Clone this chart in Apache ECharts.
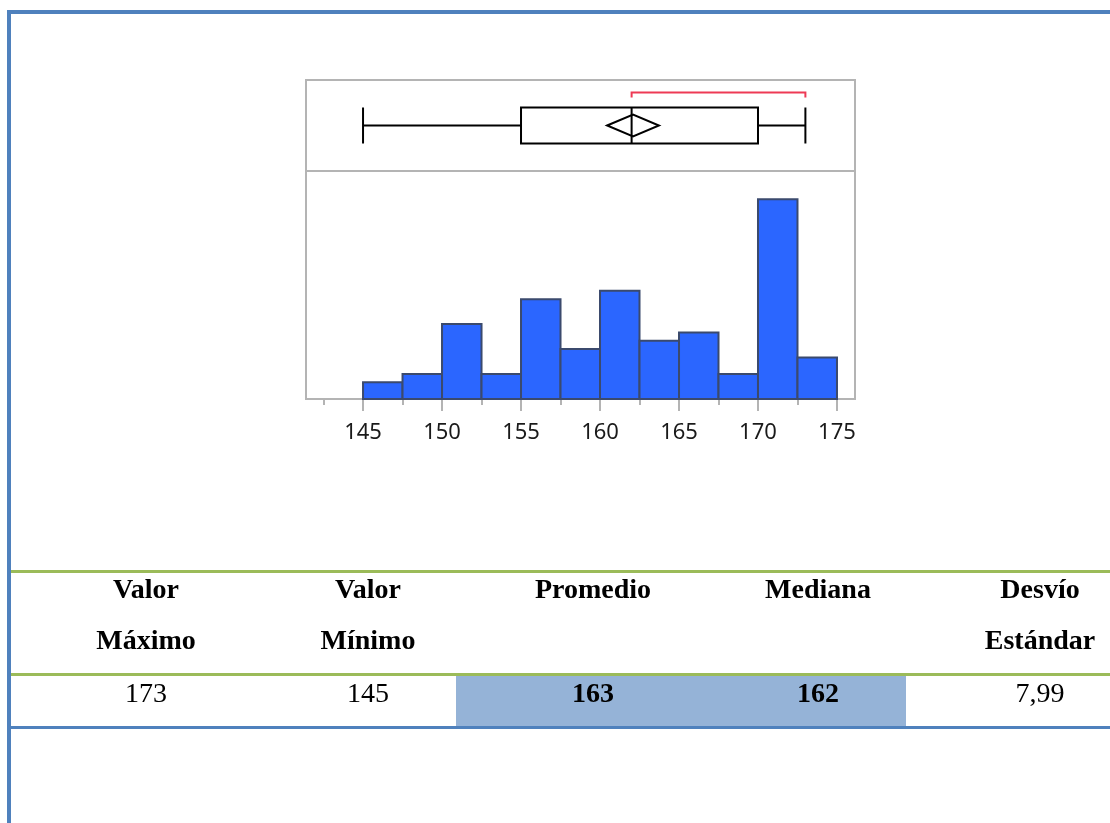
<!DOCTYPE html>
<html>
<head>
<meta charset="utf-8">
<title>Distribución de estaturas</title>
<script src="https://cdn.jsdelivr.net/npm/echarts@6/dist/echarts.min.js"></script>
<style>
  html, body { margin: 0; padding: 0; background: #ffffff; }
  #chart { width: 1110px; height: 823px; }
</style>
</head>
<body>
<div id="chart"></div>
<script>
// Histogram bins (lower edge of each bin) and their counts
const binStarts = [145, 147.5, 150, 152.5, 155, 157.5, 160, 162.5, 165, 167.5, 170, 172.5];
const binCounts = [2, 3, 9, 3, 12, 6, 13, 7, 8, 3, 24, 5];
const binWidth = 2.5;

// Axis tick values
const tickLabels = [145, 150, 155, 160, 165, 170, 175];
const minorTicks = [142.5, 147.5, 152.5, 157.5, 162.5, 167.5, 172.5];

// Box plot: min, Q1, median, Q3, max
const boxValues = [145, 155, 162, 170, 173];
// Mean diamond: lower confidence limit, upper confidence limit
const meanDiamond = [160.45, 163.73];
// Shortest half bracket
const shortestHalf = [162, 173];

// Summary table
const tableHeaders = [['Valor', 'Máximo'], ['Valor', 'Mínimo'], ['Promedio'], ['Mediana'], ['Desvío', 'Estándar']];
const tableValues = ['173', '145', '163', '162', '7,99'];
const tableBold = [false, false, true, true, false];

const X_MIN = 141.39, X_MAX = 176.14;
const GRID_LEFT = 306, GRID_WIDTH = 549;
const PANEL_GREY = '#b4b4b4';

const chart = echarts.init(document.getElementById('chart'));

// table layout
const colCenters = [146, 368, 593, 818, 1040];
const headerRows = [591, 642];
const valueRowY = 695;
const serifBold = 'bold 28px "Liberation Serif", "Times New Roman", serif';
const serifReg = '28px "Liberation Serif", "Times New Roman", serif';

const graphics = [
  // page frame
  { type: 'rect', shape: { x: 7, y: 10, width: 4, height: 813 }, style: { fill: '#4f81bd' }, silent: true },
  { type: 'rect', shape: { x: 7, y: 10, width: 1103, height: 4 }, style: { fill: '#4f81bd' }, silent: true },
  // table rules and shading
  { type: 'rect', shape: { x: 456, y: 676, width: 450, height: 50 }, style: { fill: '#95b3d7' }, silent: true },
  { type: 'rect', shape: { x: 11, y: 570, width: 1099, height: 3 }, style: { fill: '#9bbb59' }, silent: true },
  { type: 'rect', shape: { x: 11, y: 673, width: 1099, height: 3 }, style: { fill: '#9bbb59' }, silent: true },
  { type: 'rect', shape: { x: 11, y: 726, width: 1099, height: 3 }, style: { fill: '#4f81bd' }, silent: true }
];

tableHeaders.forEach((lines, i) => {
  lines.forEach((t, j) => {
    graphics.push({
      type: 'text', silent: true,
      style: { text: t, x: colCenters[i], y: headerRows[j], align: 'center', verticalAlign: 'middle', font: serifBold, fill: '#000' }
    });
  });
});
tableValues.forEach((t, i) => {
  graphics.push({
    type: 'text', silent: true,
    style: { text: t, x: colCenters[i], y: valueRowY, align: 'center', verticalAlign: 'middle', font: tableBold[i] ? serifBold : serifReg, fill: '#000' }
  });
});

const option = {
  animation: false,
  backgroundColor: '#ffffff',
  grid: [
    { left: GRID_LEFT, top: 80, width: GRID_WIDTH, height: 91, show: true, borderColor: PANEL_GREY, borderWidth: 2, backgroundColor: 'transparent' },
    { left: GRID_LEFT, top: 171, width: GRID_WIDTH, height: 228, show: true, borderColor: PANEL_GREY, borderWidth: 2, backgroundColor: 'transparent' }
  ],
  xAxis: [
    {
      type: 'value', gridIndex: 1, min: X_MIN, max: X_MAX, position: 'bottom',
      axisLine: { show: true, lineStyle: { color: PANEL_GREY, width: 2 } },
      axisTick: { show: true, customValues: tickLabels, length: 12, lineStyle: { color: PANEL_GREY, width: 2 } },
      axisLabel: { show: true, customValues: tickLabels, margin: 23, fontSize: 22, color: '#1a1a1a', fontFamily: '"Noto Sans", sans-serif' },
      splitLine: { show: false }
    },
    {
      type: 'value', gridIndex: 1, min: X_MIN, max: X_MAX, position: 'bottom',
      axisLine: { show: false },
      axisTick: { show: true, customValues: minorTicks, length: 6, lineStyle: { color: PANEL_GREY, width: 2 } },
      axisLabel: { show: false },
      splitLine: { show: false }
    },
    {
      type: 'value', gridIndex: 0, min: X_MIN, max: X_MAX,
      axisLine: { show: false }, axisTick: { show: false }, axisLabel: { show: false }, splitLine: { show: false }
    }
  ],
  yAxis: [
    { type: 'value', gridIndex: 0, min: 0, max: 1, show: false, splitLine: { show: false } },
    { type: 'value', gridIndex: 1, min: 0, max: 27.4, show: false, splitLine: { show: false } }
  ],
  series: [
    {
      type: 'custom',
      name: 'Histograma',
      xAxisIndex: 0,
      yAxisIndex: 1,
      data: binStarts.map((s, i) => [s, binCounts[i]]),
      encode: { x: 0, y: 1 },
      renderItem: function (params, api) {
        const s = api.value(0);
        const c = api.value(1);
        const p0 = api.coord([s, 0]);
        const p1 = api.coord([s + binWidth, c]);
        return {
          type: 'rect',
          shape: { x: p0[0], y: p1[1], width: p1[0] - p0[0], height: p0[1] - p1[1] },
          style: { fill: '#2b66ff', stroke: '#3b4a6d', lineWidth: 2 }
        };
      }
    },
    {
      type: 'custom',
      name: 'Caja',
      xAxisIndex: 2,
      yAxisIndex: 0,
      data: [boxValues.concat(meanDiamond, shortestHalf)],
      encode: { x: [0, 1, 2, 3, 4, 5, 6, 7, 8] },
      renderItem: function (params, api) {
        const x = (v) => api.coord([v, 0.5])[0];
        const yc = api.coord([X_MIN, 0.5])[1];
        const vmin = api.value(0), q1 = api.value(1), med = api.value(2), q3 = api.value(3), vmax = api.value(4);
        const lo = api.value(5), hi = api.value(6);
        const mid = (lo + hi) / 2;
        const sh0 = api.value(7), sh1 = api.value(8);
        const black = { stroke: '#000', lineWidth: 2, fill: null };
        const hb = 18, hd = 11;
        return {
          type: 'group',
          children: [
            { type: 'line', shape: { x1: x(vmin), y1: yc, x2: x(q1), y2: yc }, style: black },
            { type: 'line', shape: { x1: x(q3), y1: yc, x2: x(vmax), y2: yc }, style: black },
            { type: 'line', shape: { x1: x(vmin), y1: yc - hb, x2: x(vmin), y2: yc + hb }, style: black },
            { type: 'line', shape: { x1: x(vmax), y1: yc - hb, x2: x(vmax), y2: yc + hb }, style: black },
            { type: 'rect', shape: { x: x(q1), y: yc - hb, width: x(q3) - x(q1), height: 2 * hb }, style: black },
            { type: 'polygon', shape: { points: [[x(lo), yc], [x(mid), yc - hd], [x(hi), yc], [x(mid), yc + hd]] }, style: black },
            { type: 'line', shape: { x1: x(med), y1: yc - hb, x2: x(med), y2: yc + hb }, style: black },
            { type: 'polyline', shape: { points: [[x(sh0), yc - 28], [x(sh0), yc - 33], [x(sh1), yc - 33], [x(sh1), yc - 28]] }, style: { stroke: '#ee3a55', lineWidth: 2, fill: null } }
          ]
        };
      }
    }
  ],
  graphic: graphics
};

chart.setOption(option);
</script>
</body>
</html>
